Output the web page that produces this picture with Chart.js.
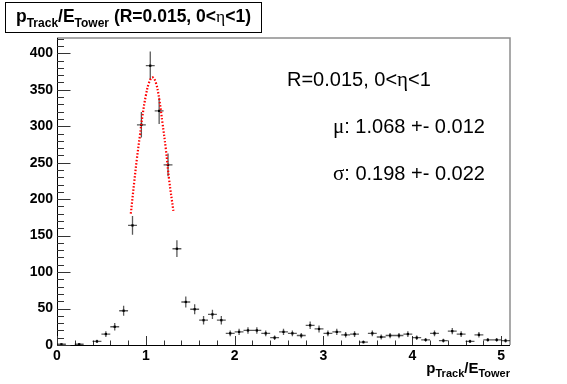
<!DOCTYPE html>
<html><head><meta charset="utf-8">
<script src="https://cdn.jsdelivr.net/npm/chart.js@4/dist/chart.umd.min.js"></script>
<style>html,body{margin:0;padding:0;background:#fff}#wrap{width:567px;height:384px;position:relative}</style>
</head><body><div id="wrap"><canvas id="c" width="567" height="384"></canvas></div>
<script>
const binCenters = [0.05,0.15,0.25,0.35,0.45,0.55,0.65,0.75,0.85,0.95,1.05,1.15,1.25,1.35,1.45,1.55,1.65,1.75,1.85,1.95,2.05,2.15,2.25,2.35,2.45,2.55,2.65,2.75,2.85,2.95,3.05,3.15,3.25,3.35,3.45,3.55,3.65,3.75,3.85,3.95,4.05,4.15,4.25,4.35,4.45,4.55,4.65,4.75,4.85,4.95,5.05];
const counts = [1,null,1,null,5,15,25,47,164,302,383,321,247,132,59,49,34,42,34,16,18,20,20,16,10,18,16,13,27,22,16,18,14,15,4,16,11,13,13,15,10,7,16,6,19,15,5,14,7,7,6];
const binHalfWidth = 0.05;
const fitX = [0.831,0.869,0.899,0.933,0.963,1.0,1.037,1.075,1.112,1.15,1.187,1.225,1.262,1.31];
const fitY = [180,223,255,287,315,342,360,367,360,338,305,269,227,184];
const xTicks = [0,1,2,3,4,5];
const yTicks = [0,50,100,150,200,250,300,350,400];
const xRange = [0,5.1];
const yRange = [0,421];
const titleText = ["p","Track","/E","Tower"," (R=0.015, 0<","η","<1)"];
const statLines = ["R=0.015, 0<η<1","μ: 1.068 +- 0.012","σ: 0.198 +- 0.022"];

const SANS = '"Liberation Sans", Arial, Helvetica, sans-serif';
const SERIF = '"Liberation Serif", "Times New Roman", serif';

function drawRich(ctx, x, y, parts, align) {
  let w = 0;
  for (const p of parts) { ctx.font = p.font; w += ctx.measureText(p.t).width; }
  let cx = align === 'right' ? x - w : x;
  ctx.textBaseline = 'alphabetic'; ctx.textAlign = 'left';
  for (const p of parts) {
    ctx.font = p.font;
    ctx.fillText(p.t, cx, y + (p.dy || 0));
    cx += ctx.measureText(p.t).width;
  }
}

const decor = {
  id: 'decor',
  beforeDraw(chart) {
    const ctx = chart.ctx;
    ctx.save(); ctx.fillStyle = '#fff'; ctx.fillRect(0,0,chart.width,chart.height); ctx.restore();
  },
  beforeDatasetsDraw(chart) {
    const ctx = chart.ctx, a = chart.chartArea;
    const xs = chart.scales.x, ys = chart.scales.y;
    ctx.save();
    ctx.strokeStyle = 'rgba(0,0,0,0.45)'; ctx.lineWidth = 1.5;
    ctx.beginPath(); ctx.moveTo(a.left, a.top); ctx.lineTo(a.right, a.top); ctx.lineTo(a.right, a.bottom); ctx.stroke();
    ctx.strokeStyle = '#000'; ctx.lineWidth = 1;
    ctx.beginPath(); ctx.moveTo(a.left+0.5, a.top); ctx.lineTo(a.left+0.5, a.bottom+0.5); ctx.lineTo(a.right, a.bottom+0.5); ctx.stroke();
    ctx.strokeStyle = '#333';
    ctx.beginPath();
    for (let v = yRange[0]; v <= yRange[1]; v += 10) {
      const py = Math.round(ys.getPixelForValue(v)) + 0.5;
      const len = (v % 50 === 0) ? 13.5 : 7;
      ctx.moveTo(a.left, py); ctx.lineTo(a.left + len, py);
    }
    for (let i = 0; i <= 25; i++) {
      const v = i * 0.2;
      const px = Math.round(xs.getPixelForValue(v)) + 0.5;
      const len = (i % 5 === 0) ? 9 : 4.5;
      ctx.moveTo(px, a.bottom); ctx.lineTo(px, a.bottom - len);
    }
    ctx.stroke();
    ctx.strokeStyle = 'rgba(0,0,0,0.65)'; ctx.lineWidth = 1.3;
    ctx.beginPath();
    counts.forEach((c, i) => {
      if (c === null) return;
      const x = binCenters[i];
      const e = Math.sqrt(c);
      const px = xs.getPixelForValue(x), py = ys.getPixelForValue(c);
      ctx.moveTo(xs.getPixelForValue(x - binHalfWidth), py); ctx.lineTo(xs.getPixelForValue(x + binHalfWidth), py);
      ctx.moveTo(px, ys.getPixelForValue(Math.max(0, c - e))); ctx.lineTo(px, ys.getPixelForValue(c + e));
    });
    ctx.stroke();
    ctx.restore();
  },
  afterDraw(chart) {
    const ctx = chart.ctx;
    ctx.save();
    ctx.fillStyle = '#fff'; ctx.fillRect(5.5, 2.5, 256, 30);
    ctx.strokeStyle = '#000'; ctx.lineWidth = 1; ctx.strokeRect(5.5, 2.5, 256, 30);
    ctx.fillStyle = '#000';
    const B = 'bold 17.5px ' + SANS, Bs = 'bold 12px ' + SANS;
    drawRich(ctx, 16, 22, [
      {t: titleText[0], font: B}, {t: titleText[1], font: Bs, dy: 5},
      {t: titleText[2], font: B}, {t: titleText[3], font: Bs, dy: 5},
      {t: titleText[4], font: B}, {t: titleText[5], font: '17.5px ' + SERIF}, {t: titleText[6], font: B}
    ]);
    const R = '20px ' + SANS, G = '21px ' + SERIF;
    const l0 = statLines[0].split('η');
    drawRich(ctx, 287, 86, [{t: l0[0], font: R}, {t: 'η', font: G}, {t: l0[1], font: R}]);
    drawRich(ctx, 333, 133, [{t: statLines[1][0], font: G}, {t: statLines[1].slice(1), font: R}]);
    drawRich(ctx, 333, 180, [{t: statLines[2][0], font: G}, {t: statLines[2].slice(1), font: R}]);
    const A = 'bold 15px ' + SANS, As = 'bold 11px ' + SANS;
    drawRich(ctx, 510, 373, [
      {t: 'p', font: A}, {t: 'Track', font: As, dy: 4}, {t: '/E', font: A}, {t: 'Tower', font: As, dy: 4}
    ], 'right');
    ctx.restore();
  }
};

new Chart(document.getElementById('c'), {
  type: 'scatter',
  data: {
    datasets: [
      {
        label: 'data',
        data: binCenters.map((x, i) => ({x, y: counts[i]})),
        pointStyle: 'rect', pointRadius: 1.6, backgroundColor: '#000', borderColor: '#000', borderWidth: 0,
        showLine: false, order: 2
      },
      {
        label: 'fit', type: 'line',
        data: fitX.map((x, i) => ({x, y: fitY[i]})),
        borderColor: '#ff0000', borderWidth: 2.2, borderDash: [1.5, 1.8], pointRadius: 0,
        tension: 0.4, fill: false, order: 1
      }
    ]
  },
  options: {
    responsive: false, animation: false, devicePixelRatio: 1,
    layout: {padding: {left: 0, top: 38, right: 57, bottom: 0}},
    plugins: {legend: {display: false}, tooltip: {enabled: false}, title: {display: false}},
    scales: {
      x: {
        type: 'linear', min: xRange[0], max: xRange[1],
        afterBuildTicks: s => { s.ticks = xTicks.map(v => ({value: v})); },
        afterFit: s => { s.height = 39; },
        grid: {display: false, drawTicks: false}, border: {display: false},
        ticks: {padding: 3, color: '#000', font: {family: SANS, size: 14, weight: 'bold'}, maxRotation: 0, autoSkip: false, callback: v => String(v)}
      },
      y: {
        type: 'linear', min: yRange[0], max: yRange[1],
        afterBuildTicks: s => { s.ticks = yTicks.map(v => ({value: v})); },
        afterFit: s => { s.width = 57; },
        grid: {display: false, drawTicks: false}, border: {display: false},
        ticks: {padding: 4, color: '#000', font: {family: SANS, size: 14, weight: 'bold'}, autoSkip: false, callback: v => String(v)}
      }
    }
  },
  plugins: [decor]
});
</script></body></html>
